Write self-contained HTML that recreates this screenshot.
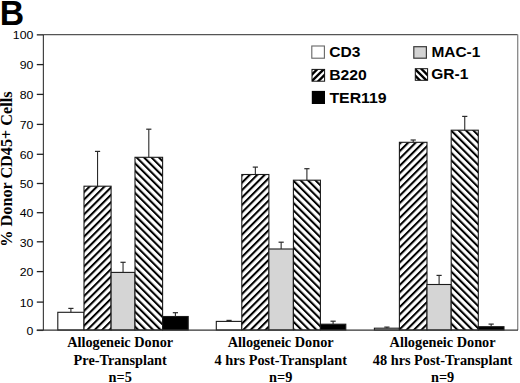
<!DOCTYPE html>
<html><head><meta charset="utf-8"><style>
html,body{margin:0;padding:0;background:#fff;width:520px;height:383px;overflow:hidden}
svg{display:block}
.tl{font-family:"Liberation Sans",sans-serif;font-size:11.6px;fill:#000}
.cl{font-family:"Liberation Serif",serif;font-weight:bold;font-size:13.6px;fill:#000}
.lg{font-family:"Liberation Sans",sans-serif;font-weight:bold;font-size:15px;fill:#000}
.yl{font-family:"Liberation Serif",serif;font-weight:bold;font-size:16.2px;fill:#000}
.B{font-family:"Liberation Sans",sans-serif;font-weight:bold;font-size:35.4px;fill:#000}
</style></head><body>
<svg width="520" height="383" viewBox="0 0 520 383">
<defs>
<pattern id="hA" patternUnits="userSpaceOnUse" width="5.25" height="5.25" patternTransform="rotate(45)">
<rect width="5.25" height="5.25" fill="#fff"/><rect x="0" y="0" width="2.05" height="5.25" fill="#000"/>
</pattern>
<pattern id="hB" patternUnits="userSpaceOnUse" width="5.25" height="5.25" patternTransform="rotate(-45)">
<rect width="5.25" height="5.25" fill="#fff"/><rect x="0" y="0" width="2.05" height="5.25" fill="#000"/>
</pattern>
</defs>
<text x="-0.3" y="25.2" class="B" textLength="24.4" lengthAdjust="spacingAndGlyphs">B</text>
<line x1="43.5" y1="34.6" x2="517.7" y2="34.6" stroke="#555" stroke-width="1.4"/>
<line x1="517.7" y1="34.6" x2="517.7" y2="330" stroke="#888" stroke-width="1.3"/>
<line x1="43.4" y1="34.6" x2="43.4" y2="330" stroke="#444" stroke-width="1.2"/>
<line x1="36.8" y1="330.40" x2="43.5" y2="330.40" stroke="#222" stroke-width="1.3"/>
<text x="33.4" y="335.10" text-anchor="end" class="tl" textLength="6.84" lengthAdjust="spacingAndGlyphs">0</text>
<line x1="36.8" y1="302.10" x2="43.5" y2="302.10" stroke="#222" stroke-width="1.3"/>
<text x="33.4" y="306.80" text-anchor="end" class="tl" textLength="13.68" lengthAdjust="spacingAndGlyphs">10</text>
<line x1="36.8" y1="271.60" x2="43.5" y2="271.60" stroke="#222" stroke-width="1.3"/>
<text x="33.4" y="276.30" text-anchor="end" class="tl" textLength="13.68" lengthAdjust="spacingAndGlyphs">20</text>
<line x1="36.8" y1="241.80" x2="43.5" y2="241.80" stroke="#222" stroke-width="1.3"/>
<text x="33.4" y="246.50" text-anchor="end" class="tl" textLength="13.68" lengthAdjust="spacingAndGlyphs">30</text>
<line x1="36.8" y1="212.70" x2="43.5" y2="212.70" stroke="#222" stroke-width="1.3"/>
<text x="33.4" y="217.40" text-anchor="end" class="tl" textLength="13.68" lengthAdjust="spacingAndGlyphs">40</text>
<line x1="36.8" y1="183.50" x2="43.5" y2="183.50" stroke="#222" stroke-width="1.3"/>
<text x="33.4" y="188.20" text-anchor="end" class="tl" textLength="13.68" lengthAdjust="spacingAndGlyphs">50</text>
<line x1="36.8" y1="154.30" x2="43.5" y2="154.30" stroke="#222" stroke-width="1.3"/>
<text x="33.4" y="159.00" text-anchor="end" class="tl" textLength="13.68" lengthAdjust="spacingAndGlyphs">60</text>
<line x1="36.8" y1="124.40" x2="43.5" y2="124.40" stroke="#222" stroke-width="1.3"/>
<text x="33.4" y="129.10" text-anchor="end" class="tl" textLength="13.68" lengthAdjust="spacingAndGlyphs">70</text>
<line x1="36.8" y1="94.40" x2="43.5" y2="94.40" stroke="#222" stroke-width="1.3"/>
<text x="33.4" y="99.10" text-anchor="end" class="tl" textLength="13.68" lengthAdjust="spacingAndGlyphs">80</text>
<line x1="36.8" y1="64.60" x2="43.5" y2="64.60" stroke="#222" stroke-width="1.3"/>
<text x="33.4" y="69.30" text-anchor="end" class="tl" textLength="13.68" lengthAdjust="spacingAndGlyphs">90</text>
<line x1="36.8" y1="34.85" x2="43.5" y2="34.85" stroke="#222" stroke-width="1.3"/>
<text x="33.4" y="39.05" text-anchor="end" class="tl" textLength="20.52" lengthAdjust="spacingAndGlyphs">100</text>
<rect x="57.80" y="312.30" width="26.20" height="17.70" fill="#fff" stroke="#1a1a1a" stroke-width="1.1"/>
<rect x="84.00" y="186.20" width="27.10" height="143.80" fill="url(#hA)" stroke="#1a1a1a" stroke-width="1.1"/>
<rect x="111.10" y="272.40" width="23.90" height="57.60" fill="#d5d5d5" stroke="#1a1a1a" stroke-width="1.1"/>
<rect x="135.00" y="157.30" width="27.60" height="172.70" fill="url(#hB)" stroke="#1a1a1a" stroke-width="1.1"/>
<rect x="162.60" y="316.50" width="25.60" height="13.50" fill="#000" stroke="#1a1a1a" stroke-width="1.1"/>
<rect x="216.30" y="321.40" width="25.50" height="8.60" fill="#fff" stroke="#1a1a1a" stroke-width="1.1"/>
<rect x="241.80" y="174.50" width="27.10" height="155.50" fill="url(#hA)" stroke="#1a1a1a" stroke-width="1.1"/>
<rect x="268.90" y="249.00" width="24.50" height="81.00" fill="#d5d5d5" stroke="#1a1a1a" stroke-width="1.1"/>
<rect x="293.40" y="180.20" width="27.00" height="149.80" fill="url(#hB)" stroke="#1a1a1a" stroke-width="1.1"/>
<rect x="320.40" y="324.20" width="25.40" height="5.80" fill="#000" stroke="#1a1a1a" stroke-width="1.1"/>
<rect x="374.40" y="328.20" width="25.00" height="1.80" fill="#fff" stroke="#1a1a1a" stroke-width="1.1"/>
<rect x="399.40" y="142.30" width="27.60" height="187.70" fill="url(#hA)" stroke="#1a1a1a" stroke-width="1.1"/>
<rect x="427.00" y="284.50" width="24.20" height="45.50" fill="#d5d5d5" stroke="#1a1a1a" stroke-width="1.1"/>
<rect x="451.20" y="130.20" width="27.10" height="199.80" fill="url(#hB)" stroke="#1a1a1a" stroke-width="1.1"/>
<rect x="478.30" y="326.70" width="25.70" height="3.30" fill="#000" stroke="#1a1a1a" stroke-width="1.1"/>
<line x1="70.90" y1="312.30" x2="70.90" y2="308.40" stroke="#2a2a2a" stroke-width="1.1"/>
<line x1="68.30" y1="308.40" x2="73.50" y2="308.40" stroke="#2a2a2a" stroke-width="1.2"/>
<line x1="97.55" y1="186.20" x2="97.55" y2="151.40" stroke="#2a2a2a" stroke-width="1.1"/>
<line x1="94.95" y1="151.40" x2="100.15" y2="151.40" stroke="#2a2a2a" stroke-width="1.2"/>
<line x1="123.05" y1="272.40" x2="123.05" y2="262.30" stroke="#2a2a2a" stroke-width="1.1"/>
<line x1="120.45" y1="262.30" x2="125.65" y2="262.30" stroke="#2a2a2a" stroke-width="1.2"/>
<line x1="148.80" y1="157.30" x2="148.80" y2="129.20" stroke="#2a2a2a" stroke-width="1.1"/>
<line x1="146.20" y1="129.20" x2="151.40" y2="129.20" stroke="#2a2a2a" stroke-width="1.2"/>
<line x1="175.40" y1="316.50" x2="175.40" y2="312.70" stroke="#2a2a2a" stroke-width="1.1"/>
<line x1="172.80" y1="312.70" x2="178.00" y2="312.70" stroke="#2a2a2a" stroke-width="1.2"/>
<line x1="229.05" y1="321.40" x2="229.05" y2="320.40" stroke="#2a2a2a" stroke-width="1.1"/>
<line x1="226.45" y1="320.40" x2="231.65" y2="320.40" stroke="#2a2a2a" stroke-width="1.2"/>
<line x1="255.35" y1="174.50" x2="255.35" y2="167.10" stroke="#2a2a2a" stroke-width="1.1"/>
<line x1="252.75" y1="167.10" x2="257.95" y2="167.10" stroke="#2a2a2a" stroke-width="1.2"/>
<line x1="281.15" y1="249.00" x2="281.15" y2="242.20" stroke="#2a2a2a" stroke-width="1.1"/>
<line x1="278.55" y1="242.20" x2="283.75" y2="242.20" stroke="#2a2a2a" stroke-width="1.2"/>
<line x1="306.90" y1="180.20" x2="306.90" y2="168.70" stroke="#2a2a2a" stroke-width="1.1"/>
<line x1="304.30" y1="168.70" x2="309.50" y2="168.70" stroke="#2a2a2a" stroke-width="1.2"/>
<line x1="333.10" y1="324.20" x2="333.10" y2="321.20" stroke="#2a2a2a" stroke-width="1.1"/>
<line x1="330.50" y1="321.20" x2="335.70" y2="321.20" stroke="#2a2a2a" stroke-width="1.2"/>
<line x1="386.90" y1="328.20" x2="386.90" y2="327.10" stroke="#2a2a2a" stroke-width="1.1"/>
<line x1="384.30" y1="327.10" x2="389.50" y2="327.10" stroke="#2a2a2a" stroke-width="1.2"/>
<line x1="413.20" y1="142.30" x2="413.20" y2="140.00" stroke="#2a2a2a" stroke-width="1.1"/>
<line x1="410.60" y1="140.00" x2="415.80" y2="140.00" stroke="#2a2a2a" stroke-width="1.2"/>
<line x1="439.10" y1="284.50" x2="439.10" y2="275.40" stroke="#2a2a2a" stroke-width="1.1"/>
<line x1="436.50" y1="275.40" x2="441.70" y2="275.40" stroke="#2a2a2a" stroke-width="1.2"/>
<line x1="464.75" y1="130.20" x2="464.75" y2="116.40" stroke="#2a2a2a" stroke-width="1.1"/>
<line x1="462.15" y1="116.40" x2="467.35" y2="116.40" stroke="#2a2a2a" stroke-width="1.2"/>
<line x1="491.15" y1="326.70" x2="491.15" y2="324.10" stroke="#2a2a2a" stroke-width="1.1"/>
<line x1="488.55" y1="324.10" x2="493.75" y2="324.10" stroke="#2a2a2a" stroke-width="1.2"/>
<line x1="36.8" y1="330.1" x2="518" y2="330.1" stroke="#333" stroke-width="1.3"/>
<clipPath id="cB"><rect x="312" y="69.4" width="12.6" height="11.8"/></clipPath>
<clipPath id="cG"><rect x="415.3" y="68.7" width="12.3" height="11.6"/></clipPath>
<rect x="311.8" y="46" width="12.6" height="12.2" fill="#fff" stroke="#666" stroke-width="1.1"/>
<g clip-path="url(#cB)" stroke="#000" stroke-width="2.3">
<line x1="305" y1="88" x2="331" y2="62"/><line x1="298.5" y1="88" x2="324.5" y2="62"/><line x1="311.5" y1="88" x2="337.5" y2="62"/></g>
<rect x="312" y="69.4" width="12.6" height="11.8" fill="none" stroke="#111" stroke-width="1"/>
<rect x="311.8" y="90.9" width="13.2" height="13.1" fill="#000"/>
<rect x="413.8" y="46.7" width="12.6" height="11.5" fill="#d3d3d3" stroke="#3a3a3a" stroke-width="1.2"/>
<g clip-path="url(#cG)" stroke="#000" stroke-width="2.3">
<line x1="408" y1="62" x2="434" y2="88"/><line x1="414.5" y1="62" x2="440.5" y2="88"/><line x1="401.5" y1="62" x2="427.5" y2="88"/></g>
<rect x="415.3" y="68.7" width="12.3" height="11.6" fill="none" stroke="#111" stroke-width="1"/>
<text x="329.2" y="57.2" class="lg" textLength="31.2" lengthAdjust="spacingAndGlyphs">CD3</text>
<text x="329.2" y="80.3" class="lg" textLength="37.6" lengthAdjust="spacingAndGlyphs">B220</text>
<text x="329.4" y="103.1" class="lg" textLength="57.3" lengthAdjust="spacingAndGlyphs">TER119</text>
<text x="431.4" y="56.6" class="lg" textLength="48.9" lengthAdjust="spacingAndGlyphs">MAC-1</text>
<text x="431.2" y="79.4" class="lg" textLength="37.1" lengthAdjust="spacingAndGlyphs">GR-1</text>
<text transform="translate(12.4,169.1) rotate(-90)" text-anchor="middle" class="yl">% Donor CD45+ Cells</text>
<text x="120.2" y="347.3" text-anchor="middle" class="cl" textLength="106.04" lengthAdjust="spacingAndGlyphs">Allogeneic Donor</text>
<text x="120.2" y="364.7" text-anchor="middle" class="cl" textLength="93.21" lengthAdjust="spacingAndGlyphs">Pre-Transplant</text>
<text x="120.2" y="381.7" text-anchor="middle" class="cl" textLength="23.25" lengthAdjust="spacingAndGlyphs">n=5</text>
<text x="280.7" y="347.3" text-anchor="middle" class="cl" textLength="106.04" lengthAdjust="spacingAndGlyphs">Allogeneic Donor</text>
<text x="280.7" y="364.7" text-anchor="middle" class="cl" textLength="132.42" lengthAdjust="spacingAndGlyphs">4 hrs Post-Transplant</text>
<text x="280.7" y="381.7" text-anchor="middle" class="cl" textLength="23.25" lengthAdjust="spacingAndGlyphs">n=9</text>
<text x="442.6" y="347.3" text-anchor="middle" class="cl" textLength="106.04" lengthAdjust="spacingAndGlyphs">Allogeneic Donor</text>
<text x="442.6" y="364.7" text-anchor="middle" class="cl" textLength="139.57" lengthAdjust="spacingAndGlyphs">48 hrs Post-Transplant</text>
<text x="442.6" y="381.7" text-anchor="middle" class="cl" textLength="23.25" lengthAdjust="spacingAndGlyphs">n=9</text>
</svg>
</body></html>
